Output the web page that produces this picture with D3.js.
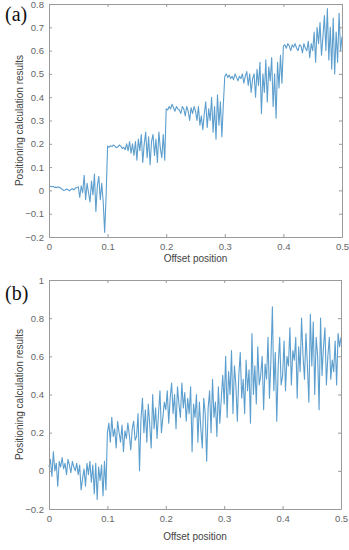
<!DOCTYPE html>
<html>
<head>
<meta charset="utf-8">
<script src="https://cdn.jsdelivr.net/npm/d3@7"></script>
<style>
  html, body { margin: 0; padding: 0; background: #fff; }
  svg { display: block; }
  .tick text { font-family: "Liberation Sans", Arial, sans-serif; font-size: 9.5px; fill: #666; }
  .axis-label { font-family: "Liberation Sans", Arial, sans-serif; font-size: 10px; fill: #444; }
  .panel-label { font-family: "Liberation Serif", "Times New Roman", serif; font-size: 20px; fill: #111; }
</style>
</head>
<body>
<div id="chart"></div>
<script>
// sample spacing along the offset axis
const step = 0.0025;

// panel (a): staircase with noise, 201 samples from 0 to 0.5
const seriesA = [
  0.015, 0.018, 0.016, 0.017, 0.014, 0.012, 0.015, 0.013, 0.01, 0.005, 0.0, 0.002, 0.006, 0.003, -0.002, 0.004, 0.008, 0.002, 0.01, 0.012,
  0.015, -0.03, 0.02, -0.01, 0.065, -0.04, 0.03, -0.01, -0.05, 0.04, -0.02, 0.07, -0.09, 0.02, 0.06, -0.04, 0.03, -0.05, -0.18, -0.02,
  0.19, 0.185, 0.192, 0.188, 0.195, 0.19, 0.183, 0.187, 0.195, 0.19, 0.18, 0.185, 0.175, 0.2, 0.17, 0.21, 0.16, 0.2, 0.15, 0.21,
  0.13, 0.22, 0.17, 0.24, 0.12, 0.2, 0.25, 0.14, 0.23, 0.11, 0.21, 0.24, 0.15, 0.22, 0.12, 0.25, 0.18, 0.14, 0.24, 0.13,
  0.35, 0.345, 0.36, 0.35, 0.37, 0.355, 0.34, 0.36, 0.35, 0.345, 0.33, 0.36, 0.35, 0.32, 0.36, 0.34, 0.3, 0.355, 0.33, 0.36,
  0.34, 0.3, 0.36, 0.28, 0.32, 0.26, 0.33, 0.38, 0.27, 0.35, 0.3, 0.4, 0.25, 0.36, 0.22, 0.41, 0.28, 0.38, 0.23, 0.37,
  0.49, 0.5, 0.485, 0.495, 0.48, 0.49, 0.475, 0.5, 0.485, 0.47, 0.49, 0.48, 0.5, 0.46, 0.49, 0.51, 0.45, 0.5, 0.42, 0.48,
  0.5, 0.4, 0.52, 0.45, 0.55, 0.33, 0.5, 0.42, 0.56, 0.38, 0.53, 0.47, 0.57, 0.36, 0.5, 0.31, 0.55, 0.44, 0.58, 0.46,
  0.62, 0.625, 0.61, 0.63, 0.62, 0.6, 0.625, 0.615, 0.63, 0.61, 0.6, 0.625, 0.62, 0.59, 0.63, 0.61, 0.6, 0.64, 0.57, 0.63,
  0.6, 0.68, 0.55, 0.7, 0.63, 0.72, 0.58, 0.66, 0.75, 0.6, 0.78, 0.56, 0.7, 0.52, 0.74, 0.5, 0.68, 0.55, 0.76, 0.6, 0.66
];

// panel (b): noisy rising trend, 201 samples from 0 to 0.5
const seriesB = [
  0.02, 0.06, -0.03, 0.1, 0.0, 0.04, -0.08, 0.05, 0.02, 0.07, 0.01, 0.04, -0.02, 0.06, 0.03, -0.01, 0.05, 0.02, 0.0, 0.04,
  -0.02, 0.03, -0.1, -0.04, 0.01, -0.08, 0.04, -0.02, 0.05, -0.06, 0.03, -0.12, 0.04, -0.15, 0.02, -0.05, 0.03, -0.13, 0.05, -0.1,
  0.2, 0.25, 0.15, 0.28, 0.18, 0.22, 0.12, 0.26, 0.2, 0.15, 0.24, 0.1, 0.21, 0.17, 0.25, 0.19, 0.11, 0.22, 0.26, 0.16,
  0.18, 0.3, 0.0, 0.27, 0.38, 0.2, 0.32, 0.15, 0.35, 0.24, 0.12, 0.4, 0.22, 0.33, 0.17, 0.3, 0.42, 0.2, 0.28, 0.36,
  0.32, 0.42, 0.25, 0.38, 0.46, 0.3, 0.4, 0.22, 0.44, 0.35, 0.28, 0.46, 0.33, 0.41, 0.26, 0.38, 0.3, 0.44, 0.1, 0.35,
  0.28, 0.4, 0.15, 0.36, 0.22, 0.12, 0.38, 0.3, 0.05, 0.33, 0.42, 0.2, 0.48, 0.28, 0.36, 0.18, 0.44, 0.25, 0.38, 0.5,
  0.35, 0.6, 0.28, 0.52, 0.4, 0.63, 0.3, 0.55, 0.45, 0.26, 0.5, 0.62, 0.38, 0.48, 0.3, 0.58, 0.42, 0.53, 0.25, 0.72,
  0.4, 0.55, 0.35, 0.65, 0.45, 0.5, 0.6, 0.32, 0.56, 0.48, 0.7, 0.38, 0.58, 0.86, 0.42, 0.62, 0.26, 0.55, 0.7, 0.45,
  0.5, 0.68, 0.42, 0.6, 0.55, 0.75, 0.45, 0.63, 0.58, 0.7, 0.38, 0.65, 0.52, 0.8, 0.6, 0.48, 0.72, 0.55, 0.36, 0.82,
  0.55, 0.78, 0.4, 0.7, 0.6, 0.32, 0.8, 0.5, 0.65, 0.75, 0.45, 0.6, 0.7, 0.48, 0.58, 0.52, 0.68, 0.45, 0.72, 0.65, 0.7
];

const xTicks = [0, 0.1, 0.2, 0.3, 0.4, 0.5];
const yTicksA = [-0.2, -0.1, 0, 0.1, 0.2, 0.3, 0.4, 0.5, 0.6, 0.7, 0.8];
const yTicksB = [-0.2, 0, 0.2, 0.4, 0.6, 0.8, 1];

const xLabel = 'Offset position';
const yLabel = 'Positioning calculation results';

const panels = [
  { tag: '(a)', values: seriesA, yDomain: [-0.2, 0.8], yTicks: yTicksA,
    left: 49, right: 342, top: 4, bottom: 237, tagY: 21, xLabelGap: 25 },
  { tag: '(b)', values: seriesB, yDomain: [-0.2, 1], yTicks: yTicksB,
    left: 49, right: 341, top: 280, bottom: 509, tagY: 300, xLabelGap: 31 }
];

const svg = d3.select('#chart').append('svg')
  .attr('width', 349)
  .attr('height', 550);

const fmt = (d) => (d === 0 ? '0' : d3.format('~g')(d));

panels.forEach((p) => {
  const data = p.values.map((v, i) => ({ x: i * step, y: v }));
  const x = d3.scaleLinear().domain([0, 0.5]).range([p.left, p.right]);
  const y = d3.scaleLinear().domain(p.yDomain).range([p.bottom, p.top]);
  const g = svg.append('g');

  // line first, box drawn on top
  const line = d3.line()
    .x((d) => x(d.x))
    .y((d) => y(d.y));

  g.append('path')
    .datum(data)
    .attr('fill', 'none')
    .attr('stroke', '#4a93c8')
    .attr('stroke-width', 1.1)
    .attr('stroke-opacity', 0.9)
    .attr('stroke-linejoin', 'round')
    .attr('d', line);

  // axes, inward ticks on all four sides
  const styleAxis = (sel) => {
    sel.select('.domain').attr('stroke', '#9a9a9a');
    sel.selectAll('.tick line').attr('stroke', '#9a9a9a');
  };

  g.append('g')
    .attr('transform', `translate(0,${p.bottom})`)
    .call(d3.axisBottom(x).tickValues(xTicks).tickFormat(fmt).tickSizeInner(-3).tickSizeOuter(0).tickPadding(6))
    .call(styleAxis);

  g.append('g')
    .attr('transform', `translate(0,${p.top})`)
    .call(d3.axisTop(x).tickValues(xTicks).tickFormat('').tickSizeInner(-3).tickSizeOuter(0))
    .call(styleAxis);

  g.append('g')
    .attr('transform', `translate(${p.left},0)`)
    .call(d3.axisLeft(y).tickValues(p.yTicks).tickFormat(fmt).tickSizeInner(-3).tickSizeOuter(0).tickPadding(5))
    .call(styleAxis);

  g.append('g')
    .attr('transform', `translate(${p.right},0)`)
    .call(d3.axisRight(y).tickValues(p.yTicks).tickFormat('').tickSizeInner(-3).tickSizeOuter(0))
    .call(styleAxis);

  g.selectAll('.tick text').attr('fill', '#666');

  // axis titles
  g.append('text')
    .attr('class', 'axis-label')
    .attr('x', (p.left + p.right) / 2)
    .attr('y', p.bottom + p.xLabelGap)
    .attr('text-anchor', 'middle')
    .text(xLabel);

  g.append('text')
    .attr('class', 'axis-label')
    .attr('transform', `translate(23,${(p.top + p.bottom) / 2}) rotate(-90)`)
    .attr('text-anchor', 'middle')
    .text(yLabel);

  // panel tag
  g.append('text')
    .attr('class', 'panel-label')
    .attr('x', 5)
    .attr('y', p.tagY)
    .text(p.tag);
});
</script>
</body>
</html>
